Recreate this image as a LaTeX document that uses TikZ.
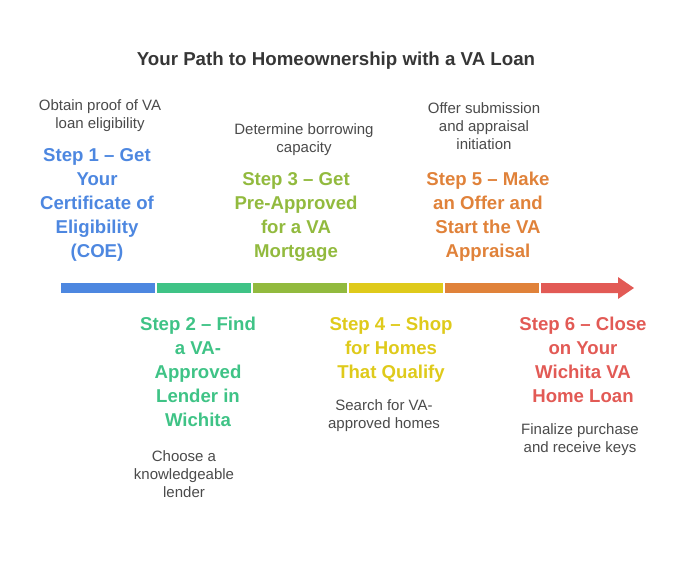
\documentclass[tikz,border=0pt]{standalone}
\usepackage{fontspec}
\setmainfont{Liberation Sans}
\definecolor{stepblue}{HTML}{4D87E0}
\definecolor{stepgreen}{HTML}{3FC386}
\definecolor{stepolive}{HTML}{92BA3E}
\definecolor{stepyellow}{HTML}{DFCA1B}
\definecolor{steporange}{HTML}{E0823A}
\definecolor{stepred}{HTML}{E25A55}
\definecolor{desccolor}{HTML}{4A4A4A}
\definecolor{titlecolor}{HTML}{363636}
\begin{document}
\begin{tikzpicture}[
			x=1pt, y=-1pt,
			steptext/.style={anchor=north, align=center, inner sep=0pt, font=\bfseries\fontsize{18.6}{24}\selectfont},
			desctext/.style={anchor=north, align=center, inner sep=0pt, text=desccolor, font=\fontsize{15}{18}\selectfont},
			segment/.style={inner sep=0pt, minimum width=94pt, minimum height=10pt}
		]
		\useasboundingbox (0,0) rectangle (696,576);
		\node[anchor=north, inner sep=0pt, text=titlecolor, font=\bfseries\fontsize{18.7}{22}\selectfont] (title) at (336,52) {Your Path to Homeownership with a VA Loan};

		% timeline bar
		\foreach \i/\c in {1/stepblue, 2/stepgreen, 3/stepolive, 4/stepyellow, 5/steporange}
			\node[segment, fill=\c] (seg\i) at ({108+96*(\i-1)},288) {};
		\fill[stepred] (541,283) -- (618,283) -- (618,277) -- (634,288) -- (618,299) -- (618,293) -- (541,293) -- cycle;

		% steps above the bar
		\node[desctext] (desc1) at (100,99) {Obtain proof of VA\\loan eligibility};
		\node[steptext, text=stepblue] (step1) at (97,148) {Step 1 – Get\\Your\\Certificate of\\Eligibility\\(COE)};
		\node[desctext] (desc3) at (304,123) {Determine borrowing\\capacity};
		\node[steptext, text=stepolive] (step3) at (296,172) {Step 3 – Get\\Pre-Approved\\for a VA\\Mortgage};
		\node[desctext] (desc5) at (484,102) {Offer submission\\and appraisal\\initiation};
		\node[steptext, text=steporange] (step5) at (488,172) {Step 5 – Make\\an Offer and\\Start the VA\\Appraisal};

		% steps below the bar
		\node[steptext, text=stepgreen] (step2) at (198,317) {Step 2 – Find\\a VA-\\Approved\\Lender in\\Wichita};
		\node[desctext] (desc2) at (184,450) {Choose a\\knowledgeable\\lender};
		\node[steptext, text=stepyellow] (step4) at (391,317) {Step 4 – Shop\\for Homes\\That Qualify};
		\node[desctext] (desc4) at (384,399) {Search for VA-\\approved homes};
		\node[steptext, text=stepred] (step6) at (583,317) {Step 6 – Close\\on Your\\Wichita VA\\Home Loan};
		\node[desctext] (desc6) at (580,423) {Finalize purchase\\and receive keys};
	\end{tikzpicture}
\end{document}
